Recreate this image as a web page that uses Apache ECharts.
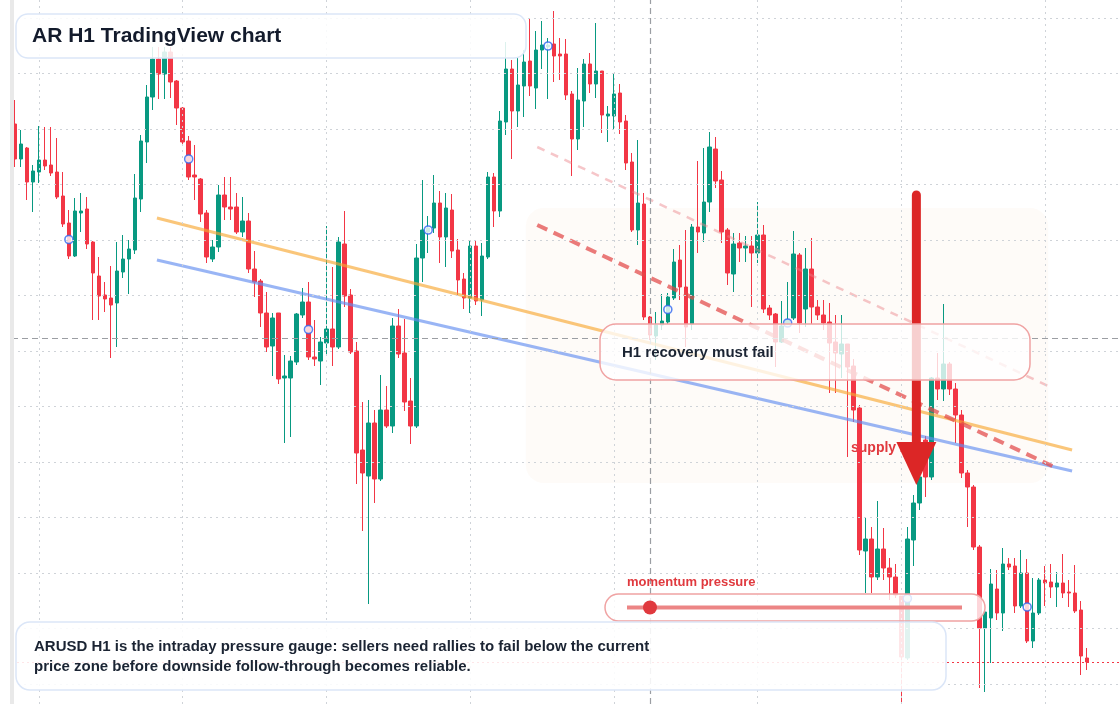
<!DOCTYPE html>
<html>
<head>
<meta charset="utf-8">
<title>AR H1 TradingView chart</title>
<script src="https://cdn.jsdelivr.net/npm/echarts@6/dist/echarts.min.js"></script>
<style>
	html, body { margin: 0; padding: 0; background: #fff; }
	#chart { width: 1120px; height: 704px; }
</style>
</head>
<body>
<div id="chart"></div>
<script>
(function () {

	/**
	 * ARUSD H1 candles (price)
	 */
	var opens = [
		0.6560,0.6525,0.6536,0.6502,0.6512,0.6524,0.6519,0.6512,0.6488,0.6461,0.6428,0.6471,0.6475,0.6442,0.6408,0.6389,0.6386,0.6381,0.6412,0.6425,
		0.6434,0.6485,0.6542,0.6587,0.6625,0.6610,0.6632,0.6603,0.6576,0.6543,0.6509,0.6505,0.6471,0.6425,0.6437,0.6489,0.6477,0.6477,0.6452,0.6463,
		0.6415,0.6403,0.6371,0.6338,0.6371,0.6306,0.6306,0.6322,0.6369,0.6382,0.6327,0.6323,0.6341,0.6355,0.6337,0.6440,0.6389,0.6333,0.6234,0.6208,
		0.6261,0.6205,0.6274,0.6258,0.6358,0.6331,0.6283,0.6258,0.6426,0.6452,0.6456,0.6481,0.6447,0.6474,0.6434,0.6405,0.6386,0.6438,0.6384,0.6427,
		0.6507,0.6473,0.6562,0.6615,0.6573,0.6598,0.6623,0.6596,0.6634,0.6637,0.6640,0.6630,0.6630,0.6590,0.6545,0.6583,0.6620,0.6600,0.6613,0.6568,
		0.6568,0.6591,0.6563,0.6522,0.6454,0.6480,0.6367,0.6348,0.6359,0.6362,0.6386,0.6424,0.6397,0.6360,0.6457,0.6451,0.6482,0.6535,0.6504,0.6454,
		0.6410,0.6441,0.6436,0.6438,0.6431,0.6449,0.6376,0.6370,0.6342,0.6358,0.6366,0.6429,0.6375,0.6415,0.6377,0.6369,0.6362,0.6342,0.6330,0.6340,
		0.6318,0.6276,0.6133,0.6145,0.6107,0.6135,0.6116,0.6107,0.6088,0.6026,0.6144,0.6181,0.6244,0.6207,0.6306,0.6295,0.6320,0.6295,0.6269,0.6211,
		0.6197,0.6137,0.6056,0.6066,0.6095,0.6071,0.6120,0.6118,0.6078,0.6111,0.6043,0.6071,0.6104,0.6102,0.6097,0.6101,0.6092,0.6091,0.6074,0.6026
	];
	var closes = [
		0.6525,0.6540,0.6502,0.6513,0.6524,0.6518,0.6511,0.6487,0.6460,0.6428,0.6473,0.6473,0.6440,0.6411,0.6388,0.6385,0.6379,0.6413,0.6425,0.6435,
		0.6486,0.6543,0.6587,0.6625,0.6610,0.6632,0.6602,0.6576,0.6542,0.6507,0.6507,0.6470,0.6427,0.6437,0.6489,0.6477,0.6475,0.6452,0.6463,0.6415,
		0.6402,0.6371,0.6337,0.6366,0.6305,0.6308,0.6323,0.6370,0.6382,0.6327,0.6325,0.6342,0.6355,0.6337,0.6442,0.6388,0.6332,0.6231,0.6211,0.6261,
		0.6205,0.6274,0.6258,0.6358,0.6330,0.6282,0.6258,0.6426,0.6454,0.6456,0.6481,0.6447,0.6476,0.6433,0.6404,0.6386,0.6438,0.6383,0.6428,0.6507,
		0.6473,0.6563,0.6615,0.6573,0.6599,0.6622,0.6598,0.6634,0.6639,0.6639,0.6628,0.6628,0.6589,0.6545,0.6584,0.6620,0.6600,0.6613,0.6569,0.6570,
		0.6590,0.6562,0.6521,0.6454,0.6481,0.6367,0.6349,0.6359,0.6363,0.6387,0.6422,0.6397,0.6357,0.6457,0.6452,0.6482,0.6537,0.6503,0.6452,0.6411,
		0.6440,0.6436,0.6438,0.6431,0.6449,0.6375,0.6369,0.6342,0.6358,0.6364,0.6430,0.6361,0.6415,0.6377,0.6369,0.6361,0.6341,0.6331,0.6340,0.6317,
		0.6274,0.6134,0.6145,0.6107,0.6135,0.6116,0.6107,0.6089,0.6027,0.6145,0.6181,0.6207,0.6207,0.6306,0.6295,0.6320,0.6295,0.6269,0.6211,0.6197,
		0.6137,0.6056,0.6072,0.6100,0.6071,0.6120,0.6117,0.6078,0.6111,0.6043,0.6071,0.6104,0.6101,0.6097,0.6101,0.6091,0.6091,0.6073,0.6028,0.6022
	];
	var highs = [
		0.6584,0.6554,0.6537,0.6519,0.6558,0.6557,0.6557,0.6546,0.6512,0.6474,0.6486,0.6491,0.6487,0.6443,0.6427,0.6402,0.6418,0.6442,0.6449,0.6444,
		0.6510,0.6549,0.6599,0.6637,0.6637,0.6637,0.6637,0.6604,0.6577,0.6548,0.6539,0.6506,0.6474,0.6444,0.6499,0.6507,0.6507,0.6491,0.6487,0.6471,
		0.6433,0.6405,0.6392,0.6371,0.6371,0.6329,0.6328,0.6371,0.6396,0.6402,0.6364,0.6347,0.6458,0.6417,0.6447,0.6473,0.6395,0.6342,0.6282,0.6284,
		0.6274,0.6309,0.6298,0.6366,0.6375,0.6365,0.6306,0.6440,0.6504,0.6468,0.6509,0.6493,0.6491,0.6490,0.6445,0.6411,0.6444,0.6444,0.6441,0.6512,
		0.6511,0.6573,0.6642,0.6624,0.6627,0.6634,0.6665,0.6653,0.6663,0.6646,0.6673,0.6646,0.6645,0.6593,0.6616,0.6625,0.6631,0.6661,0.6613,0.6578,
		0.6610,0.6600,0.6569,0.6531,0.6544,0.6491,0.6368,0.6372,0.6390,0.6391,0.6435,0.6439,0.6454,0.6460,0.6523,0.6536,0.6552,0.6547,0.6513,0.6456,
		0.6451,0.6451,0.6448,0.6448,0.6482,0.6459,0.6379,0.6371,0.6383,0.6402,0.6453,0.6431,0.6436,0.6446,0.6384,0.6384,0.6381,0.6369,0.6369,0.6340,
		0.6325,0.6279,0.6167,0.6157,0.6183,0.6156,0.6126,0.6120,0.6090,0.6157,0.6189,0.6214,0.6248,0.6307,0.6331,0.6380,0.6322,0.6301,0.6274,0.6214,
		0.6199,0.6139,0.6072,0.6115,0.6114,0.6136,0.6126,0.6126,0.6134,0.6125,0.6106,0.6106,0.6118,0.6120,0.6112,0.6130,0.6104,0.6119,0.6083,0.6036
	];
	var lows = [
		0.6517,0.6517,0.6484,0.6472,0.6501,0.6514,0.6508,0.6485,0.6457,0.6425,0.6427,0.6452,0.6435,0.6364,0.6364,0.6372,0.6326,0.6337,0.6406,0.6390,
		0.6430,0.6472,0.6521,0.6574,0.6585,0.6585,0.6586,0.6559,0.6540,0.6504,0.6484,0.6462,0.6421,0.6422,0.6432,0.6464,0.6464,0.6450,0.6447,0.6411,
		0.6387,0.6357,0.6332,0.6308,0.6300,0.6241,0.6247,0.6319,0.6366,0.6324,0.6318,0.6299,0.6329,0.6318,0.6335,0.6377,0.6330,0.6200,0.6153,0.6080,
		0.6181,0.6203,0.6256,0.6251,0.6326,0.6273,0.6240,0.6256,0.6402,0.6431,0.6451,0.6421,0.6417,0.6426,0.6389,0.6375,0.6371,0.6379,0.6368,0.6425,
		0.6457,0.6467,0.6549,0.6525,0.6557,0.6567,0.6588,0.6575,0.6615,0.6585,0.6602,0.6604,0.6584,0.6508,0.6534,0.6557,0.6591,0.6586,0.6551,0.6542,
		0.6555,0.6550,0.6514,0.6452,0.6439,0.6364,0.6344,0.6324,0.6354,0.6360,0.6384,0.6384,0.6337,0.6354,0.6431,0.6442,0.6472,0.6496,0.6441,0.6399,
		0.6392,0.6422,0.6422,0.6377,0.6421,0.6371,0.6364,0.6317,0.6341,0.6357,0.6364,0.6351,0.6357,0.6360,0.6364,0.6354,0.6291,0.6291,0.6306,0.6227,
		0.6262,0.6129,0.6091,0.6091,0.6104,0.6104,0.6084,0.6086,0.5981,0.6024,0.6118,0.6174,0.6187,0.6204,0.6284,0.6283,0.6289,0.6241,0.6206,0.6157,
		0.6134,0.5996,0.5992,0.6021,0.6064,0.6053,0.6114,0.6071,0.6076,0.6041,0.6036,0.6069,0.6078,0.6086,0.6077,0.6086,0.6077,0.6071,0.6009,0.6014
	];

	// drawn levels: [bar index, price]
	var trendOrange = [[23.7, 0.6466], [176.5, 0.6234]];
	var trendBlue = [[23.7, 0.6424], [176.5, 0.6213]];
	var trendRed = [[87.2, 0.6459], [173.2, 0.6218]];
	var trendPink = [[87.2, 0.6537], [172.5, 0.6298]];
	var supplyZone = [[85.3, 0.6476], [172.5, 0.6201]];
	var arrowPath = [[150.5, 0.6489], [150.5, 0.6199]];
	var crossBar = 106, crossPrice = 0.6346;

	var SLOTS = 185;
	var FONT = '"Liberation Sans", Arial, Helvetica, sans-serif';
	var UP = '#089981', DOWN = '#f23645';

	var hours = [];
	for (var h = 0; h < SLOTS; h++) hours.push(('0' + (h % 24)).slice(-2) + ':00');

	var candles = opens.map(function (o, i) {
		return [o, closes[i], lows[i], highs[i]];
	});

	// pivot dots every 20 bars, at the body middle
	var pivots = [];
	for (var p = 9; p < opens.length; p += 20) pivots.push([p, (opens[p] + closes[p]) / 2]);

	// background grid, crosshair and last price
	var gridStyle = { color: '#cfd3d8', type: [2, 4], width: 1 };
	var guides = [];
	for (var k = 0; k <= 12; k++) guides.push({ yAxis: 0.6 + k * 0.00555, lineStyle: gridStyle });
	for (var c = 4; c < opens.length; c += 24) guides.push({ xAxis: c, lineStyle: gridStyle });
	guides.push({ xAxis: crossBar, lineStyle: { color: '#9b9ea3', type: [6, 4], width: 1.2 } });
	guides.push({ yAxis: crossPrice, lineStyle: { color: '#9b9ea3', type: [6, 4], width: 1.2 } });
	guides.push({ yAxis: closes[closes.length - 1], lineStyle: { color: DOWN, type: [2, 3], width: 1 } });

	function trend(data, color, width, type, z) {
		return {
			type: 'line', xAxisIndex: 1, data: data, showSymbol: false, silent: true, z: z,
			lineStyle: { color: color, width: width, type: type }
		};
	}

	var chart = echarts.init(document.getElementById('chart'));

	chart.setOption({
		animation: false,
		backgroundColor: '#ffffff',
		grid: { left: 12, top: 0, width: 1110, height: 704 },
		xAxis: [
			{ type: 'category', data: hours, boundaryGap: true, show: false },
			{ type: 'value', min: -0.5, max: SLOTS - 0.5, show: false }
		],
		yAxis: { type: 'value', min: 0.5980, max: 0.6684, show: false },
		series: [
			{
				type: 'line', xAxisIndex: 1, data: [], z: 1, silent: true,
				markLine: { symbol: 'none', precision: 6, label: { show: false }, data: guides }
			},
			{
				type: 'candlestick', data: candles, barWidth: 4, z: 2,
				itemStyle: { color: UP, color0: DOWN, borderColor: UP, borderColor0: DOWN, borderWidth: 1 }
			},
			trend(trendOrange, 'rgba(247,168,50,0.65)', 3, 'solid', 3),
			trend(trendBlue, 'rgba(98,142,240,0.65)', 3, 'solid', 3),
			trend(trendRed, 'rgba(226,72,72,0.72)', 4, [11, 7], 3),
			trend(trendPink, 'rgba(236,128,136,0.45)', 2.5, [8, 7], 3),
			{
				type: 'scatter', data: pivots, symbol: 'circle', symbolSize: 8, z: 4, silent: true,
				itemStyle: { color: '#ffffff', borderColor: '#2f66f0', borderWidth: 1.6 }
			}
		]
	});

	// overlay pieces pinned to the price scale
	var toPx = function (pt) { return chart.convertToPixel({ seriesIndex: 2 }, pt); };
	var z0 = toPx(supplyZone[0]), z1 = toPx(supplyZone[1]);
	var a0 = toPx(arrowPath[0]), a1 = toPx(arrowPath[1]);
	var headLen = 43, headHalf = 20;

	function box(x, y, w, h, r, stroke, fill) {
		return {
			type: 'rect', z: 10, silent: true,
			shape: { x: x, y: y, width: w, height: h, r: r },
			style: { fill: fill, stroke: stroke, lineWidth: 1.5 }
		};
	}
	function label(x, y, text, font, color) {
		return {
			type: 'text', z: 11, silent: true, x: x, y: y,
			style: { text: text, font: font, fill: color, align: 'left', verticalAlign: 'middle' }
		};
	}

	chart.setOption({
		graphic: [
			{
				type: 'rect', z: 0, silent: true,
				shape: { x: z0[0], y: z0[1], width: z1[0] - z0[0], height: z1[1] - z0[1], r: 18 },
				style: { fill: 'rgba(250,232,215,0.18)' }
			},
			{
				type: 'text', z: 1, silent: true, x: 851, y: 448,
				style: { text: 'supply zone', font: 'bold 14px ' + FONT, fill: '#e0393e', verticalAlign: 'middle' }
			},
			{
				type: 'line', z: 5, silent: true,
				shape: { x1: a0[0], y1: a0[1], x2: a1[0], y2: a1[1] - headLen + 2 },
				style: { stroke: '#dc2626', lineWidth: 9, lineCap: 'round' }
			},
			{
				type: 'polygon', z: 5, silent: true,
				shape: { points: [[a1[0] - headHalf, a1[1] - headLen], [a1[0] + headHalf, a1[1] - headLen], [a1[0], a1[1]]] },
				style: { fill: '#dc2626' }
			},
			box(16, 14, 510, 44, 12, '#dbe6f8', 'rgba(255,255,255,0.86)'),
			label(32, 36, 'AR H1 TradingView chart', 'bold 21px ' + FONT, '#131b2c'),
			box(600, 324, 430, 56, 16, '#f0a3a3', 'rgba(255,255,255,0.78)'),
			label(622, 353, 'H1 recovery must fail', 'bold 15px ' + FONT, '#1b2433'),
			label(627, 582, 'momentum pressure', 'bold 13px ' + FONT, '#e0393e'),
			box(605, 594, 380, 27, 13.5, '#f0a3a3', 'rgba(255,255,255,0.8)'),
			{
				type: 'line', z: 11, silent: true,
				shape: { x1: 627, y1: 607.5, x2: 962, y2: 607.5 },
				style: { stroke: '#ec8585', lineWidth: 4 }
			},
			{
				type: 'circle', z: 12, silent: true,
				shape: { cx: 650, cy: 607.5, r: 7 },
				style: { fill: '#e0393e' }
			},
			box(16, 622, 930, 68, 14, '#dbe6f8', 'rgba(255,255,255,0.88)'),
			label(34, 647, 'ARUSD H1 is the intraday pressure gauge: sellers need rallies to fail below the current', 'bold 15px ' + FONT, '#1b2433'),
			label(34, 667, 'price zone before downside follow-through becomes reliable.', 'bold 15px ' + FONT, '#1b2433'),
			{
				type: 'rect', z: 12, silent: true,
				shape: { x: 10, y: 0, width: 4, height: 704 },
				style: { fill: '#e9e9e9' }
			}
		]
	});

})();
</script>
</body>
</html>
